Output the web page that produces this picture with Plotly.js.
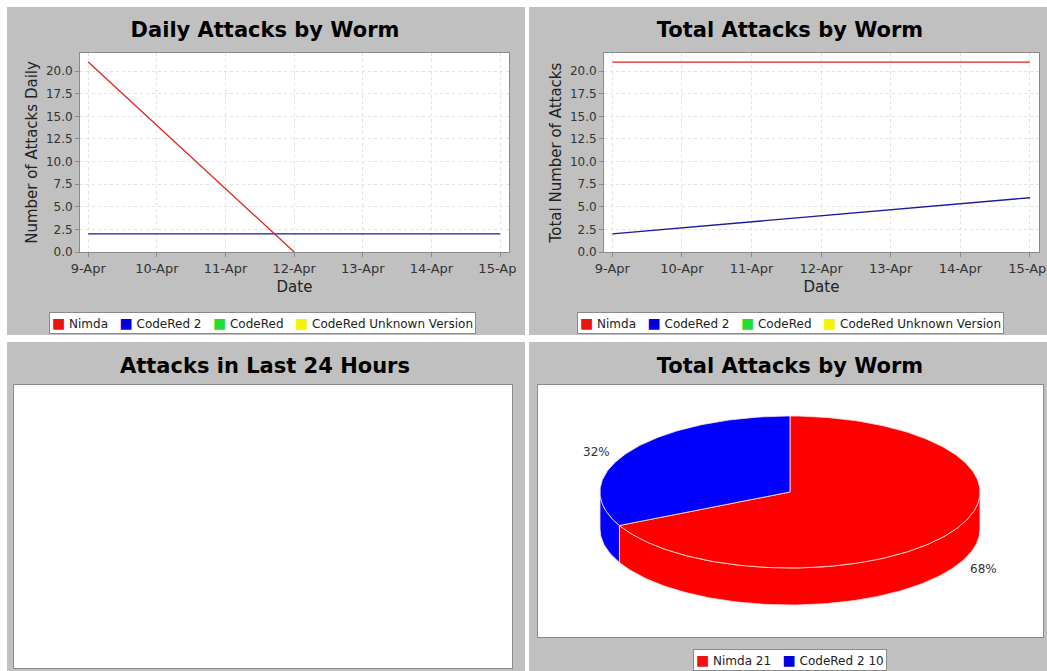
<!DOCTYPE html>
<html>
<head>
<meta charset="utf-8">
<script src="https://cdn.plot.ly/plotly-3.0.1.min.js"></script>
<style>
html,body{margin:0;padding:0;background:#ffffff;width:1047px;height:671px;overflow:hidden;}
.panel{position:absolute;background:#c0c0c0;overflow:hidden;}
.inner{overflow:hidden;}
</style>
</head>
<body>
<div class="panel" style="left:7px;top:7px;width:518px;height:328px;"><div id="c1" class="inner" style="width:509px;height:328px;"></div></div>
<div class="panel" style="left:529px;top:7px;width:518px;height:328px;"><div id="c2" class="inner" style="width:518px;height:328px;"></div></div>
<div class="panel" style="left:7px;top:342px;width:518px;height:329px;"><div id="c3" class="inner" style="width:518px;height:329px;"></div></div>
<div class="panel" style="left:529px;top:342px;width:518px;height:329px;"><div id="c4" class="inner" style="width:518px;height:329px;"></div></div>
<script>
// ---------------- DATA ----------------
const dates = ['9-Apr', '10-Apr', '11-Apr', '12-Apr', '13-Apr', '14-Apr', '15-Apr'];
const seriesNames = ['Nimda', 'CodeRed 2', 'CodeRed', 'CodeRed Unknown Version'];

// Daily attacks
const dailyNimdaDates = ['9-Apr', '12-Apr'];
const dailyNimda = [21, 0];
const dailyCodeRed2Dates = dates;
const dailyCodeRed2 = [2, 2, 2, 2, 2, 2, 2];
const dailyCodeRed = [];
const dailyCodeRedUnknown = [];

// Total attacks
const totalNimdaDates = dates;
const totalNimda = [21, 21, 21, 21, 21, 21, 21];
const totalCodeRed2Dates = ['9-Apr', '15-Apr'];
const totalCodeRed2 = [2, 6];
const totalCodeRed = [];
const totalCodeRedUnknown = [];

// Pie: total attacks by worm
const pieLabels = ['Nimda', 'CodeRed 2'];
const pieValues = [21, 10];

// Y-axis tick labels
const yTickValues = [0, 2.5, 5, 7.5, 10, 12.5, 15, 17.5, 20];
const yTickLabels = ['0.0', '2.5', '5.0', '7.5', '10.0', '12.5', '15.0', '17.5', '20.0'];

// ---------------- STYLE ----------------
const FONT = 'DejaVu Sans, Verdana, sans-serif';
const GRAY = '#c0c0c0';
const legendColors = {'Nimda': '#ee1111', 'CodeRed 2': '#0000dd', 'CodeRed': '#22dd33', 'CodeRed Unknown Version': '#f4f400'};
const lineColors = {'Nimda': '#dd2222', 'CodeRed 2': '#1a1a9a', 'CodeRed': '#22dd33', 'CodeRed Unknown Version': '#f4f400'};
const config = {staticPlot: true, displayModeBar: false, responsive: false};
const NB = '\u00a0';

// legend box drawn as a Plotly annotation (compact, JFreeChart-like)
function legendAnnotation(labels, colorKeys, x, y) {
  const parts = labels.map((l, i) =>
    '<span style="color:' + legendColors[colorKeys[i]] + ';font-size:14px">\u25A0</span>' + NB + l);
  return {
    xref: 'paper', yref: 'paper', x: x, y: y, xanchor: 'center', yanchor: 'middle',
    showarrow: false, text: parts.join(NB + NB + NB),
    font: {family: FONT, size: 12, color: '#222'},
    bgcolor: '#ffffff', bordercolor: '#8a8a8a', borderwidth: 1, borderpad: 2
  };
}

function lineChart(id, width, margin, title, titleX, yTitle, lines, legX) {
  const traces = lines.map(s => ({
    type: 'scatter', mode: 'lines', x: s.x, y: s.y, name: s.name, showlegend: false,
    line: {color: lineColors[s.name], width: 1.3}
  }));
  const plotH = 328 - margin.t - margin.b;
  const axisCommon = {
    showline: true, mirror: true, linecolor: '#8a8a8a', linewidth: 1,
    showgrid: true, gridcolor: '#e2e2e2', griddash: 'dot', gridwidth: 1,
    zeroline: false, ticks: 'outside', ticklen: 4, tickcolor: '#8a8a8a',
    fixedrange: true
  };
  const layout = {
    width: width, height: 328,
    paper_bgcolor: GRAY, plot_bgcolor: '#ffffff',
    margin: margin,
    font: {family: FONT, color: '#222'},
    title: {text: title, font: {family: FONT, size: 21, color: '#000', weight: 'bold'},
            xref: 'container', x: titleX, xanchor: 'center', yref: 'container', y: 1 - 23 / 328, yanchor: 'middle'},
    xaxis: Object.assign({}, axisCommon, {
      type: 'category', categoryorder: 'array', categoryarray: dates,
      range: [-0.12, 6.13], tickfont: {family: FONT, size: 13, color: '#333'},
      title: {text: 'Date', font: {family: FONT, size: 15, color: '#222'}, standoff: 6}
    }),
    yaxis: Object.assign({}, axisCommon, {
      range: [0, 22], tickmode: 'array', tickvals: yTickValues, ticktext: yTickLabels,
      tickfont: {family: FONT, size: 12, color: '#333'},
      title: {text: yTitle, font: {family: FONT, size: 15, color: '#222'}, standoff: 4}
    }),
    annotations: [legendAnnotation(seriesNames, seriesNames, legX, -(316 - (328 - margin.b)) / plotH)],
    showlegend: false
  };
  Plotly.newPlot(id, traces, layout, config);
}

const m1 = {l: 73, r: 7, t: 46, b: 83};
lineChart('c1', 509, m1, 'Daily Attacks by Worm', 258 / 509, 'Number of Attacks Daily', [
  {name: 'CodeRed 2', x: dailyCodeRed2Dates, y: dailyCodeRed2},
  {name: 'Nimda', x: dailyNimdaDates, y: dailyNimda},
  {name: 'CodeRed', x: [], y: dailyCodeRed},
  {name: 'CodeRed Unknown Version', x: [], y: dailyCodeRedUnknown}
], (255.5 - m1.l) / (509 - m1.l - m1.r));

const m2 = {l: 75, r: 8, t: 46, b: 83};
lineChart('c2', 518, m2, 'Total Attacks by Worm', 261 / 518, 'Total Number of Attacks', [
  {name: 'CodeRed 2', x: totalCodeRed2Dates, y: totalCodeRed2},
  {name: 'Nimda', x: totalNimdaDates, y: totalNimda},
  {name: 'CodeRed', x: [], y: totalCodeRed},
  {name: 'CodeRed Unknown Version', x: [], y: totalCodeRedUnknown}
], (261 - m2.l) / (518 - m2.l - m2.r));

// ---- Panel 3: empty chart ----
const emptyAxis = {showline: true, mirror: true, linecolor: '#8a8a8a', showgrid: false, zeroline: false,
                   showticklabels: false, ticks: '', fixedrange: true, range: [0, 1]};
Plotly.newPlot('c3', [], {
  width: 518, height: 329, paper_bgcolor: GRAY, plot_bgcolor: '#ffffff',
  margin: {l: 7, r: 13, t: 43, b: 3},
  title: {text: 'Attacks in Last 24 Hours', font: {family: FONT, size: 21, color: '#000', weight: 'bold'},
          xref: 'container', x: 258 / 518, xanchor: 'center', yref: 'container', y: 1 - 24 / 329, yanchor: 'middle'},
  xaxis: emptyAxis, yaxis: emptyAxis, showlegend: false
}, config);

// ---- Panel 4: 3D-looking pie built from the values ----
const plotW = 505, plotH = 252;
const cx = 252, cy = 145, rx = 190, ry = 76, depth = 37;
const pieColors = {'Nimda': '#ff0000', 'CodeRed 2': '#0000ff'};
const total = pieValues.reduce((a, b) => a + b, 0);
const rad = d => d * Math.PI / 180;
function arc(a1, a2, dy) {
  const xs = [], ys = [];
  const n = Math.max(2, Math.ceil(Math.abs(a2 - a1)));
  for (let i = 0; i <= n; i++) {
    const a = a1 + (a2 - a1) * i / n;
    xs.push(cx + rx * Math.cos(rad(a)));
    ys.push(cy + ry * Math.sin(rad(a)) - dy);
  }
  return [xs, ys];
}
const walls = [], tops = [], annotations = [];
let startAng = 90;
pieValues.forEach((v, i) => {
  const sweep = v / total * 360;
  const a1 = startAng - sweep, a2 = startAng;
  startAng = a1;
  const col = pieColors[pieLabels[i]];
  for (let k = -2; k <= 1; k++) {
    const lo = Math.max(a1, -180 + 360 * k), hi = Math.min(a2, 360 * k);
    if (lo < hi) {
      const [tx, ty] = arc(lo, hi, 0);
      const [bx, by] = arc(hi, lo, depth);
      walls.push({type: 'scatter', mode: 'lines', x: tx.concat(bx, [tx[0]]), y: ty.concat(by, [ty[0]]),
                  fill: 'toself', fillcolor: col, line: {color: 'rgba(255,225,225,0.8)', width: 1},
                  showlegend: false, hoverinfo: 'skip'});
    }
  }
  const [ax, ay] = arc(a1, a2, 0);
  tops.push({type: 'scatter', mode: 'lines', x: [cx].concat(ax, [cx]), y: [cy].concat(ay, [cy]),
             fill: 'toself', fillcolor: col, line: {color: 'rgba(255,225,225,0.8)', width: 1},
             showlegend: false, hoverinfo: 'skip'});
  const mid = (a1 + a2) / 2;
  const s = Math.sin(rad(mid));
  annotations.push({
    x: cx + 1.2 * rx * Math.cos(rad(mid)),
    y: cy + ry * s - (s < 0 ? depth : 0),
    xref: 'x', yref: 'y', showarrow: false,
    text: Math.round(v / total * 100) + '%',
    font: {family: FONT, size: 12, color: '#333'}
  });
});
const pieLegendLabels = pieLabels.map((l, i) => l + ' ' + pieValues[i]);
const m4 = {l: 9, r: 4, t: 43, b: 34};
annotations.push(legendAnnotation(pieLegendLabels, pieLabels, (260.5 - m4.l) / plotW, -(318 - (329 - m4.b)) / plotH));
Plotly.newPlot('c4', walls.concat(tops), {
  width: 518, height: 329, paper_bgcolor: GRAY, plot_bgcolor: '#ffffff',
  margin: m4,
  title: {text: 'Total Attacks by Worm', font: {family: FONT, size: 21, color: '#000', weight: 'bold'},
          xref: 'container', x: 261 / 518, xanchor: 'center', yref: 'container', y: 1 - 24 / 329, yanchor: 'middle'},
  xaxis: Object.assign({}, emptyAxis, {range: [0, plotW]}),
  yaxis: Object.assign({}, emptyAxis, {range: [0, plotH]}),
  annotations: annotations,
  showlegend: false
}, config);
</script>
</body>
</html>
